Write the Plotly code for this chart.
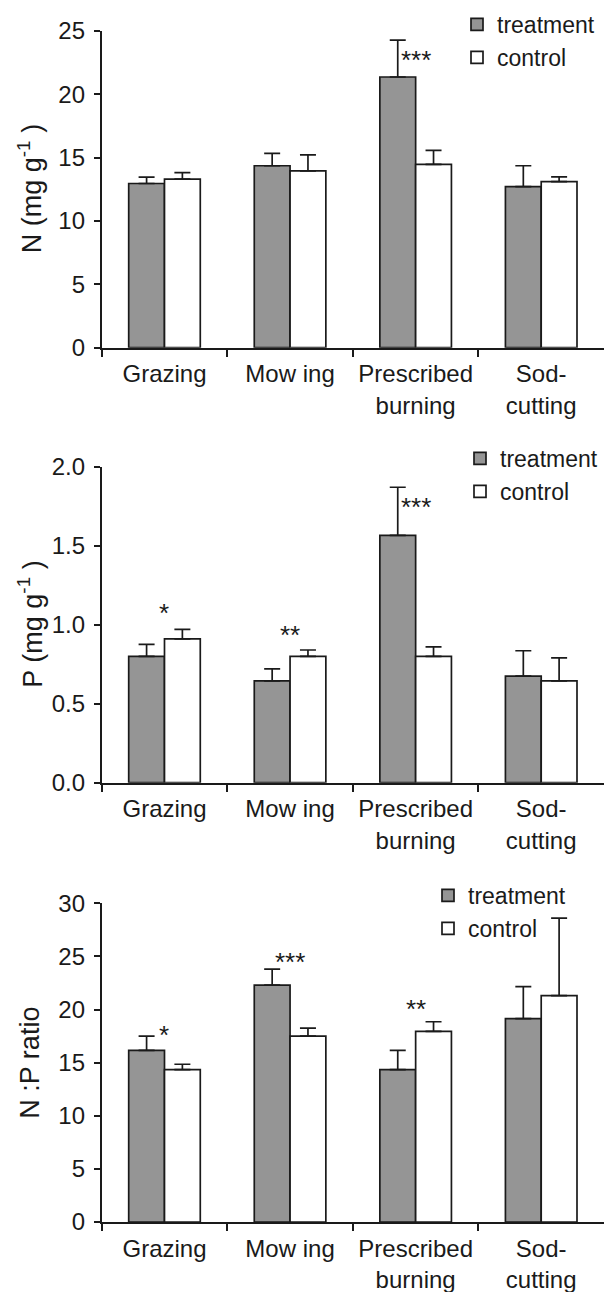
import plotly.graph_objects as go

# Management treatments (x categories)
categories = ["Grazing", "Mow ing", "Prescribed<br>burning", "Sod-<br>cutting"]

# Foliar N concentration (mg g-1)
n_treatment = [12.95, 14.35, 21.35, 12.7]
n_treatment_se = [0.5, 0.98, 2.9, 1.65]
n_control = [13.3, 13.95, 14.45, 13.1]
n_control_se = [0.5, 1.26, 1.11, 0.37]
n_sig_labels = ["", "", "***", ""]
n_sig_y = [None, None, 23.2, None]

# Foliar P concentration (mg g-1)
p_treatment = [0.80, 0.645, 1.565, 0.675]
p_treatment_se = [0.075, 0.075, 0.305, 0.16]
p_control = [0.91, 0.80, 0.80, 0.645]
p_control_se = [0.06, 0.04, 0.06, 0.145]
p_sig_labels = ["*", "**", "***", ""]
p_sig_y = [1.11, 0.975, 1.785, None]

# N:P ratio
np_treatment = [16.15, 22.3, 14.35, 19.15]
np_treatment_se = [1.35, 1.5, 1.8, 3.0]
np_control = [14.35, 17.5, 17.95, 21.3]
np_control_se = [0.5, 0.75, 0.9, 7.3]
np_sig_labels = ["*", "***", "**", ""]
np_sig_y = [18.2, 25.0, 20.6, None]

# Panel settings
y_titles = ["N (mg g<sup>-1</sup> )", "P (mg g<sup>-1</sup> )", "N :P ratio"]
y_ranges = [[0, 25], [0, 2.0], [0, 30]]
y_dticks = [5, 0.5, 5]
y_formats = ["d", ".1f", "d"]

W, H = 607, 1292
INK = "#1a1a1a"
GREY = "#959595"
FONT = "Liberation Sans, Arial, sans-serif"

# pixel layout of the three panels (top, bottom of plot area)
panel_px = [(30.7, 347.7), (466.7, 782.7), (903.3, 1222.0)]
x_px = (101.7, 604.0)
legend_px = [(457, 3), (460, 437), (428, 874)]

panels = [
    (n_treatment, n_treatment_se, n_control, n_control_se, n_sig_labels, n_sig_y),
    (p_treatment, p_treatment_se, p_control, p_control_se, p_sig_labels, p_sig_y),
    (np_treatment, np_treatment_se, np_control, np_control_se, np_sig_labels, np_sig_y),
]

fig = go.Figure()
layout = dict(
    width=W, height=H,
    margin=dict(l=0, r=0, t=0, b=0),
    paper_bgcolor="white", plot_bgcolor="white",
    font=dict(family=FONT, size=22, color=INK),
    barmode="group", bargap=0.43, bargroupgap=0,
    showlegend=True,
)
annotations = []

for i, (tr, tr_se, ct, ct_se, sig, sig_y) in enumerate(panels):
    k = "" if i == 0 else str(i + 1)
    xa, ya = "x" + k, "y" + k
    leg = "legend" + k
    top, bot = panel_px[i]
    dom_y = [1 - bot / H, 1 - top / H]

    fig.add_trace(go.Bar(
        x=categories, y=tr, name="treatment", xaxis=xa, yaxis=ya, legend=leg,
        marker=dict(color=GREY, line=dict(color=INK, width=1.7)),
        error_y=dict(type="data", array=tr_se, arrayminus=[0] * len(tr_se),
                     symmetric=False, color=INK, thickness=1.7, width=8),
    ))
    fig.add_trace(go.Bar(
        x=categories, y=ct, name="control", xaxis=xa, yaxis=ya, legend=leg,
        marker=dict(color="white", line=dict(color=INK, width=1.7)),
        error_y=dict(type="data", array=ct_se, arrayminus=[0] * len(ct_se),
                     symmetric=False, color=INK, thickness=1.7, width=8),
    ))

    layout["xaxis" + k] = dict(
        domain=[x_px[0] / W, x_px[1] / W], anchor=ya,
        type="category", range=[-0.5, 3.5], tickson="boundaries",
        ticks="outside", ticklen=7, tickwidth=1.7, tickcolor=INK,
        showline=True, linecolor=INK, linewidth=1.7,
        showgrid=False, zeroline=False, automargin=False,
        tickfont=dict(size=24, color=INK), ticklabelstandoff=4,
    )
    layout["yaxis" + k] = dict(
        domain=dom_y, anchor=xa, range=y_ranges[i], dtick=y_dticks[i],
        tickformat=y_formats[i],
        ticks="outside", ticklen=6, tickwidth=1.7, tickcolor=INK,
        showline=True, linecolor=INK, linewidth=1.7,
        showgrid=False, zeroline=False, automargin=False,
        tickfont=dict(size=24, color=INK), ticklabelstandoff=4,
    )
    lx, ly = legend_px[i]
    layout[leg] = dict(
        x=lx / W, y=1 - ly / H, xanchor="left", yanchor="top",
        bgcolor="rgba(0,0,0,0)", font=dict(size=23, color=INK),
        tracegroupgap=0, itemwidth=30,
    )

    annotations.append(dict(
        text=y_titles[i], textangle=-90, showarrow=False,
        xref="paper", x=30 / W, xanchor="center",
        yref=ya + " domain", y=0.5, yanchor="middle",
        font=dict(size=27, color=INK),
    ))
    for cat, lab, yv in zip(categories, sig, sig_y):
        if lab:
            annotations.append(dict(
                text=lab, x=cat, y=yv, xref=xa, yref=ya, showarrow=False,
                xanchor="center", yanchor="middle", yshift=-6,
                font=dict(size=26, color=INK),
            ))

layout["annotations"] = annotations
fig.update_layout(**layout)
fig.write_html("out.html")
